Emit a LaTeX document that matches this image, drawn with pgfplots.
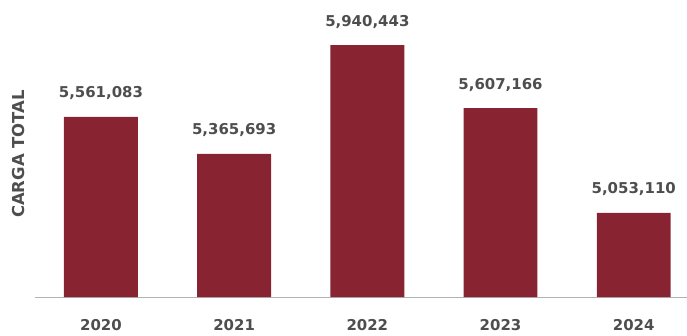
\documentclass[border=0pt]{standalone}
\usepackage{pgfplots}
\pgfplotsset{compat=1.18}
\usepackage{fontspec}
\setmainfont{DejaVu Sans}
\definecolor{barred}{RGB}{136,36,50}
\definecolor{txt}{RGB}{78,78,78}
\begin{document}
\begin{tikzpicture}[x=1bp,y=1bp]
\useasboundingbox (0,0) rectangle (687,335);
\begin{axis}[at={(35bp,38bp)}, anchor=south west, scale only axis,
  width=652bp, height=297bp,
  xmin=-0.495, xmax=4.4, ymin=4609400, ymax=6178154,
  axis y line=none, axis x line*=bottom,
  axis line style={draw=gray!60, line width=0.8pt},
  xtick={0,1,2,3,4}, xticklabels={2020,2021,2022,2023,2024},
  major tick length=0pt,
  xticklabel style={font=\bfseries\fontsize{15}{15}\selectfont, text=txt, anchor=base, yshift=-33bp},
  clip=false]
\addplot[ybar, bar width=0.555, fill=barred, draw=none,
  point meta=explicit symbolic, nodes near coords,
  every node near coord/.append style={font=\bfseries\fontsize{15}{15}\selectfont, text=txt, anchor=base, yshift=19bp}]
  coordinates {(0,5561083) [5,561,083] (1,5365693) [5,365,693] (2,5940443) [5,940,443] (3,5607166) [5,607,166] (4,5053110) [5,053,110]};
\end{axis}
\node[rotate=90, font=\bfseries\fontsize{16.5}{16.5}\selectfont, text=txt] at (19,181) {CARGA TOTAL};
\end{tikzpicture}
\end{document}
